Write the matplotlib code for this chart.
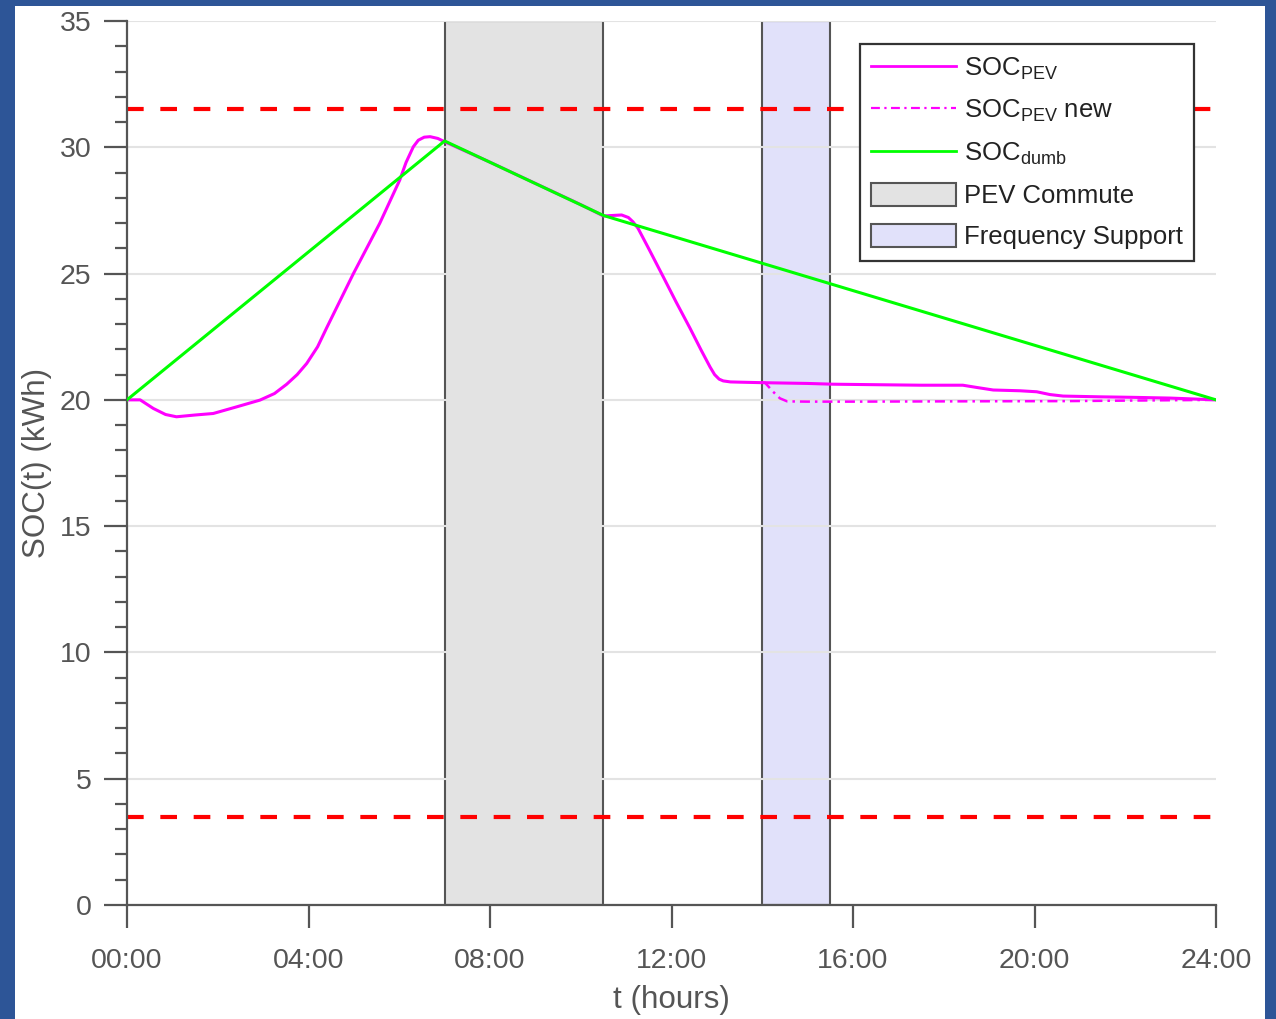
import matplotlib
matplotlib.use('Agg')
import matplotlib.pyplot as plt
from matplotlib.lines import Line2D
from matplotlib.patches import Patch, Rectangle

plt.rcParams['font.family'] = ['Liberation Sans', 'DejaVu Sans']
plt.rcParams['mathtext.fontset'] = 'custom'
plt.rcParams['mathtext.rm'] = 'Liberation Sans'
plt.rcParams['mathtext.it'] = 'Liberation Sans:italic'

# SOC of the PEV (hours, kWh)
t_pev = [0, 0.29, 0.58, 0.85, 1.09, 1.5, 1.9, 2.41, 2.93, 3.25, 3.52, 3.75, 3.96,
         4.2, 4.4, 4.99, 5.57, 6.01, 6.15, 6.31, 6.42, 6.55, 6.68, 6.85, 7.0, 8, 9,
         10, 10.5, 10.7, 10.9, 11.05, 11.15, 11.26, 11.5, 11.81, 12.1, 12.41, 12.65,
         12.85, 12.95, 13.05, 13.14, 13.3, 13.51, 14.0, 15.0, 15.56, 16.5, 17.5,
         18.42, 18.73, 19.09, 19.68, 20.05, 20.34, 20.63, 21.44, 22.17, 23.0, 24]
soc_pev = [20.0, 20.0, 19.66, 19.42, 19.33, 19.4, 19.46, 19.72, 19.99, 20.25, 20.62,
           21.0, 21.44, 22.1, 22.85, 25.0, 26.99, 28.7, 29.4, 30.02, 30.28, 30.4,
           30.42, 30.35, 30.22, 29.41, 28.57, 27.73, 27.28, 27.3, 27.32, 27.22, 27.05,
           26.8, 25.98, 24.9, 23.88, 22.83, 21.98, 21.3, 21.0, 20.82, 20.75, 20.71,
           20.7, 20.68, 20.65, 20.62, 20.6, 20.58, 20.58, 20.49, 20.39, 20.36, 20.32,
           20.21, 20.15, 20.12, 20.1, 20.07, 20.0]

# SOC of the PEV with frequency support
t_new = [14.0, 14.06, 14.24, 14.39, 14.55, 15.0, 16.0, 18.0, 20.7, 22.0, 24]
soc_new = [20.68, 20.68, 20.32, 20.06, 19.94, 19.93, 19.93, 19.94, 19.95, 19.97, 20.0]

# dumb charging
t_dumb = [0, 7, 10.5, 24]
soc_dumb = [20.0, 30.25, 27.3, 20.0]

soc_limits = [31.5, 3.5]
commute = (7, 10.5)
freq_support = (14, 15.5)

xticks = [0, 4, 8, 12, 16, 20, 24]
xtick_labels = ['00:00', '04:00', '08:00', '12:00', '16:00', '20:00', '24:00']
yticks = [0, 5, 10, 15, 20, 25, 30, 35]

GRAY = '#555555'

fig = plt.figure(figsize=(12.76, 10.19), dpi=100, facecolor='#2d5597')
fig.patches.append(Rectangle((15 / 1276, 0), 1250 / 1276, 1 - 6 / 1019,
                             transform=fig.transFigure, facecolor='white',
                             edgecolor='none', zorder=-1))
ax = fig.add_axes([127 / 1276, 114 / 1019, 1089 / 1276, 884 / 1019])
ax.set_zorder(1)
ax.set_facecolor('none')

ax.axvspan(*commute, facecolor='#e3e3e3', edgecolor=GRAY, linewidth=1.5, zorder=0.3)
ax.axvspan(*freq_support, facecolor='#e1e1fa', edgecolor=GRAY, linewidth=1.5, zorder=0.3)

for lim in soc_limits:
    ax.axhline(lim, color='#ff0000', linewidth=3, dashes=(4, 4), zorder=2)

ax.plot(t_new, soc_new, color='#ff00ff', linewidth=1.8, dashes=(4, 2, 1, 2), zorder=3)
ax.plot(t_pev, soc_pev, color='#ff00ff', linewidth=2.2, zorder=3)
ax.plot(t_dumb, soc_dumb, color='#00ff00', linewidth=2.2, zorder=4)

ax.set_xlim(0, 24)
ax.set_ylim(0, 35)
ax.set_xticks(xticks)
ax.set_xticklabels(xtick_labels)
ax.set_yticks(yticks)
ax.set_yticks(range(0, 36), minor=True)
ax.set_axisbelow(True)
ax.grid(axis='y', which='major', color='#e3e3e3', linewidth=1.5)

for side in ['top', 'right']:
    ax.spines[side].set_visible(False)
for side in ['left', 'bottom']:
    ax.spines[side].set_color(GRAY)
    ax.spines[side].set_linewidth(1.6)

ax.tick_params(which='major', direction='out', length=16.5, width=1.6, color=GRAY,
               labelcolor=GRAY, labelsize=20.5, pad=9)
ax.tick_params(axis='x', which='major', pad=14.5)
ax.tick_params(axis='y', which='minor', direction='out', length=8.5, width=1.6, color=GRAY)

ax.set_xlabel('t (hours)', fontsize=22.6, color=GRAY)
ax.set_ylabel('SOC(t) (kWh)', fontsize=22.6, color=GRAY)
ax.xaxis.label.set_va('center')
ax.yaxis.label.set_va('center')
ax.xaxis.set_label_coords(0.5, (905 - 1000) / 884)
ax.yaxis.set_label_coords((37 - 127) / 1089, 0.5)

handles = [
    Line2D([], [], color='#ff00ff', linewidth=2),
    Line2D([], [], color='#ff00ff', linewidth=1.6, dashes=(4, 2, 1, 2)),
    Line2D([], [], color='#00ff00', linewidth=2),
    Patch(facecolor='#e3e3e3', edgecolor=GRAY, linewidth=1.5),
    Patch(facecolor='#e1e1fa', edgecolor=GRAY, linewidth=1.5),
]
labels = [r'SOC$_{\mathrm{PEV}}$', r'SOC$_{\mathrm{PEV}}$ new', r'SOC$_{\mathrm{dumb}}$',
          'PEV Commute', 'Frequency Support']
leg = ax.legend(handles, labels, loc='upper right', bbox_to_anchor=(0.98, 0.974),
                borderaxespad=0, fontsize=18.5, fancybox=False, framealpha=1,
                edgecolor='#333333', handlelength=3.3, handleheight=1.0,
                handletextpad=0.3, borderpad=0.45, labelspacing=0.62)
leg.get_frame().set_linewidth(1.6)
for txt in leg.get_texts():
    txt.set_color('#222222')

fig.savefig('out.png', dpi=100, facecolor=fig.get_facecolor())
